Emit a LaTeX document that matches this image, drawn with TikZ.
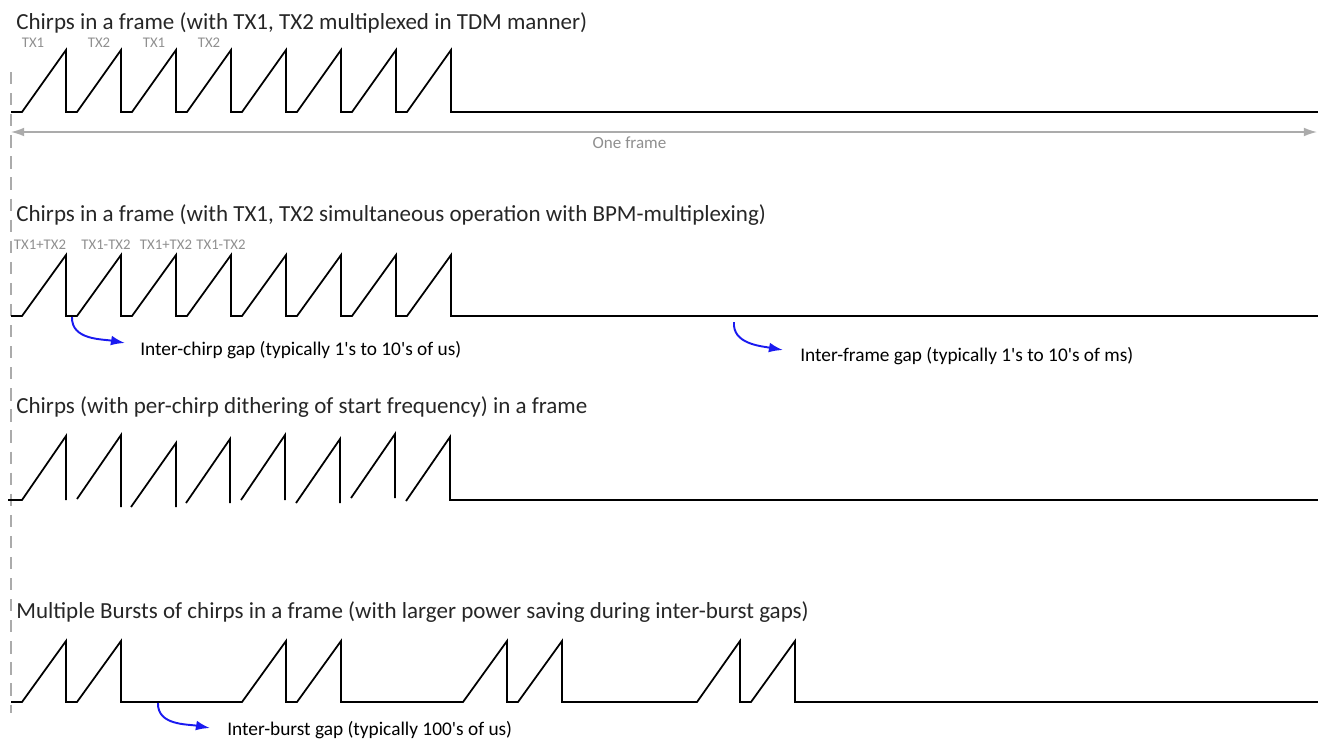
\documentclass[tikz,border=0pt]{standalone}
\usepackage{fontspec}
\setmainfont{Carlito}
\usetikzlibrary{arrows.meta,calc}
\definecolor{titlegray}{HTML}{262626}
\definecolor{txgray}{HTML}{8F8F8F}
\definecolor{framegray}{HTML}{ABABAB}
\definecolor{gapblue}{HTML}{1A1AF0}
\tikzset{
  chirp/.style={line width=1pt, black, line join=miter},
  rowtitle/.style={anchor=base west, inner sep=0pt, text=titlegray, font=\fontsize{13.1}{15}\selectfont},
  txlabel/.style={anchor=base, inner sep=0pt, text=txgray, font=\fontsize{8.4}{10}\selectfont},
  gaptext/.style={anchor=base west, inner sep=0pt, text=black, font=\fontsize{11}{13}\selectfont},
  gaparrow/.style={gapblue, line width=1.1pt, -{Latex[length=8pt,width=5.6pt]}},
}
\begin{document}
\begin{tikzpicture}[x=0.02cm,y=-0.02cm]
\useasboundingbox (0,0) rectangle (1318,738);
%\draw[step=50,gray,very thin] (0,0) grid (1318,738);
\draw[framegray, line width=0.7pt, dash pattern=on 7pt off 5pt] (11,72) -- (11,713);

% TDM frame
\node[rowtitle] (tdm) at (16,29) {Chirps in a frame (with TX1, TX2 multiplexed in TDM manner)};
\node[txlabel] (tdma) at (33,47) {TX1};
\node[txlabel] (tdmb) at (99,47) {TX2};
\node[txlabel] (tdmc) at (154,47) {TX1};
\node[txlabel] (tdmd) at (209,47) {TX2};
\draw[chirp] (11,112)--(22,112)--(66,50)--(66,112)--(77,112)--(121,50)--(121,112)--(132,112)--(176,50)--(176,112)
  --(187,112)--(231,50)--(231,112)--(242,112)--(286,50)--(286,112)--(297,112)--(341,50)--(341,112)
  --(352,112)--(396,50)--(396,112)--(407,112)--(451,50)--(451,112)--(1318,112);
\coordinate (fstart) at (11,132);
\coordinate (fend) at (1317,132);
\draw[framegray, line width=0.8pt, {Latex[length=7.5pt,width=5pt]}-{Latex[length=7.5pt,width=5pt]}] (fstart) -- (fend);
\node[anchor=base, inner sep=0pt, text=txgray, font=\fontsize{9.7}{11}\selectfont] (oneframe) at (629.5,148) {One frame};

% BPM frame
\node[rowtitle] (bpm) at (16,221) {Chirps in a frame (with TX1, TX2 simultaneous operation with BPM-multiplexing)};
\node[txlabel] (bpma) at (40,249) {TX1+TX2};
\node[txlabel] (bpmb) at (106,249) {TX1-TX2};
\node[txlabel] (bpmc) at (166,249) {TX1+TX2};
\node[txlabel] (bpmd) at (221,249) {TX1-TX2};
\draw[chirp] (11,316)--(22,316)--(66,255)--(66,316)--(77,316)--(121,255)--(121,316)--(132,316)--(176,255)--(176,316)
  --(187,316)--(231,255)--(231,316)--(242,316)--(286,255)--(286,316)--(297,316)--(341,255)--(341,316)
  --(352,316)--(396,255)--(396,316)--(407,316)--(451,255)--(451,316)--(1318,316);
\coordinate (chirpgap) at (72,317);
\node[gaptext] (chirpnote) at (140,355) {Inter-chirp gap (typically 1\textquotesingle s to 10\textquotesingle s of us)};
\draw[gaparrow] (chirpgap) to[out=-92,in=170] ($(chirpnote.base west)+(-15,-12)$);
\coordinate (framegap) at (734,322);
\node[gaptext] (framenote) at (800,361) {Inter-frame gap (typically 1\textquotesingle s to 10\textquotesingle s of ms)};
\draw[gaparrow] (framegap) to[out=-95,in=170] ($(framenote.base west)+(-17,-11)$);

% dithered frame
\node[rowtitle] (dither) at (16,413) {Chirps (with per-chirp dithering of start frequency) in a frame};
\draw[chirp] (8,500)--(22,500)--(66,436)--(66,500);
\draw[chirp] (77,499)--(121,435)--(121,507);
\draw[chirp] (131,507)--(176,443)--(176,507);
\draw[chirp] (186,503)--(230,439)--(230,503);
\draw[chirp] (241,500)--(285,435)--(285,500);
\draw[chirp] (296,503)--(340,439)--(340,503);
\draw[chirp] (351,498)--(395,434)--(395,498);
\draw[chirp] (406,501)--(450,437)--(450,500)--(1318,500);

% bursts
\node[rowtitle] (burst) at (16,618) {Multiple Bursts of chirps in a frame (with larger power saving during inter-burst gaps)};
\draw[chirp] (11,702)--(22,702)--(66,641)--(66,702)--(77,702)--(121,641)--(121,702)
  --(242,702)--(286,641)--(286,702)--(297,702)--(341,641)--(341,702)
  --(463,702)--(507,641)--(507,702)--(518,702)--(562,641)--(562,702)
  --(697,702)--(740,641)--(740,702)--(751,702)--(795,641)--(795,702)--(1318,702);
\coordinate (burstgap) at (158,703);
\node[gaptext] (burstnote) at (227,735) {Inter-burst gap (typically 100\textquotesingle s of us)};
\draw[gaparrow] (burstgap) to[out=-92,in=170] ($(burstnote.base west)+(-17,-7)$);
\end{tikzpicture}
\end{document}
